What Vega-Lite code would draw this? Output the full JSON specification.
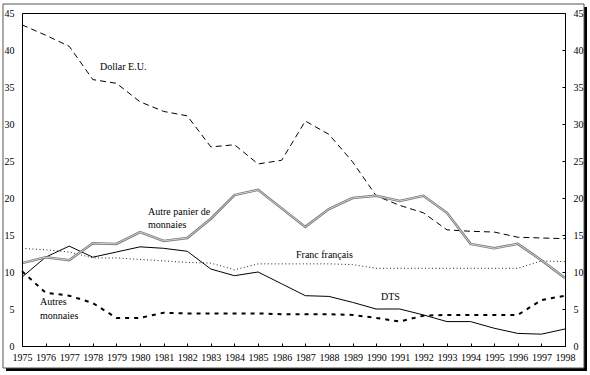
{
  "$schema": "https://vega.github.io/schema/vega-lite/v6.json",
  "width": 543,
  "height": 333,
  "autosize": {"type": "none"},
  "padding": {"left": 22, "top": 13, "right": 25, "bottom": 29},
  "background": "white",
  "config": {
    "view": {"stroke": null},
    "font": "Liberation Serif",
    "axis": {
      "domainColor": "black",
      "domainWidth": 1,
      "tickColor": "black",
      "labelColor": "black",
      "labelFont": "Liberation Serif",
      "labelFontSize": 10,
      "grid": false,
      "title": null
    }
  },
  "datasets": {
    "series": [
      {"series": "Dollar", "year": 1975, "value": 43.4},
      {"series": "Dollar", "year": 1976, "value": 42.0},
      {"series": "Dollar", "year": 1977, "value": 40.5},
      {"series": "Dollar", "year": 1978, "value": 36.0},
      {"series": "Dollar", "year": 1979, "value": 35.5},
      {"series": "Dollar", "year": 1980, "value": 33.0},
      {"series": "Dollar", "year": 1981, "value": 31.7},
      {"series": "Dollar", "year": 1982, "value": 31.1},
      {"series": "Dollar", "year": 1983, "value": 26.9},
      {"series": "Dollar", "year": 1984, "value": 27.2},
      {"series": "Dollar", "year": 1985, "value": 24.6},
      {"series": "Dollar", "year": 1986, "value": 25.1},
      {"series": "Dollar", "year": 1987, "value": 30.4},
      {"series": "Dollar", "year": 1988, "value": 28.6},
      {"series": "Dollar", "year": 1989, "value": 24.9},
      {"series": "Dollar", "year": 1990, "value": 20.3},
      {"series": "Dollar", "year": 1991, "value": 19.0},
      {"series": "Dollar", "year": 1992, "value": 18.0},
      {"series": "Dollar", "year": 1993, "value": 15.7},
      {"series": "Dollar", "year": 1994, "value": 15.5},
      {"series": "Dollar", "year": 1995, "value": 15.4},
      {"series": "Dollar", "year": 1996, "value": 14.7},
      {"series": "Dollar", "year": 1997, "value": 14.6},
      {"series": "Dollar", "year": 1998, "value": 14.5},
      {"series": "Panier", "year": 1975, "value": 11.2},
      {"series": "Panier", "year": 1976, "value": 12.0},
      {"series": "Panier", "year": 1977, "value": 11.6},
      {"series": "Panier", "year": 1978, "value": 13.9},
      {"series": "Panier", "year": 1979, "value": 13.8},
      {"series": "Panier", "year": 1980, "value": 15.4},
      {"series": "Panier", "year": 1981, "value": 14.2},
      {"series": "Panier", "year": 1982, "value": 14.6},
      {"series": "Panier", "year": 1983, "value": 17.2},
      {"series": "Panier", "year": 1984, "value": 20.4},
      {"series": "Panier", "year": 1985, "value": 21.1},
      {"series": "Panier", "year": 1986, "value": 18.6},
      {"series": "Panier", "year": 1987, "value": 16.1},
      {"series": "Panier", "year": 1988, "value": 18.5},
      {"series": "Panier", "year": 1989, "value": 20.0},
      {"series": "Panier", "year": 1990, "value": 20.3},
      {"series": "Panier", "year": 1991, "value": 19.6},
      {"series": "Panier", "year": 1992, "value": 20.3},
      {"series": "Panier", "year": 1993, "value": 18.0},
      {"series": "Panier", "year": 1994, "value": 13.8},
      {"series": "Panier", "year": 1995, "value": 13.2},
      {"series": "Panier", "year": 1996, "value": 13.8},
      {"series": "Panier", "year": 1997, "value": 11.6},
      {"series": "Panier", "year": 1998, "value": 9.2},
      {"series": "DTS", "year": 1975, "value": 9.3},
      {"series": "DTS", "year": 1976, "value": 12.0},
      {"series": "DTS", "year": 1977, "value": 13.5},
      {"series": "DTS", "year": 1978, "value": 12.0},
      {"series": "DTS", "year": 1979, "value": 12.7},
      {"series": "DTS", "year": 1980, "value": 13.4},
      {"series": "DTS", "year": 1981, "value": 13.2},
      {"series": "DTS", "year": 1982, "value": 12.8},
      {"series": "DTS", "year": 1983, "value": 10.4},
      {"series": "DTS", "year": 1984, "value": 9.5},
      {"series": "DTS", "year": 1985, "value": 10.0},
      {"series": "DTS", "year": 1986, "value": 8.4},
      {"series": "DTS", "year": 1987, "value": 6.8},
      {"series": "DTS", "year": 1988, "value": 6.7},
      {"series": "DTS", "year": 1989, "value": 5.9},
      {"series": "DTS", "year": 1990, "value": 5.0},
      {"series": "DTS", "year": 1991, "value": 5.0},
      {"series": "DTS", "year": 1992, "value": 4.2},
      {"series": "DTS", "year": 1993, "value": 3.3},
      {"series": "DTS", "year": 1994, "value": 3.3},
      {"series": "DTS", "year": 1995, "value": 2.4},
      {"series": "DTS", "year": 1996, "value": 1.7},
      {"series": "DTS", "year": 1997, "value": 1.6},
      {"series": "DTS", "year": 1998, "value": 2.3},
      {"series": "Franc", "year": 1975, "value": 13.2},
      {"series": "Franc", "year": 1976, "value": 13.0},
      {"series": "Franc", "year": 1977, "value": 12.7},
      {"series": "Franc", "year": 1978, "value": 11.9},
      {"series": "Franc", "year": 1979, "value": 11.9},
      {"series": "Franc", "year": 1980, "value": 11.7},
      {"series": "Franc", "year": 1981, "value": 11.5},
      {"series": "Franc", "year": 1982, "value": 11.3},
      {"series": "Franc", "year": 1983, "value": 11.2},
      {"series": "Franc", "year": 1984, "value": 10.3},
      {"series": "Franc", "year": 1985, "value": 11.1},
      {"series": "Franc", "year": 1986, "value": 11.1},
      {"series": "Franc", "year": 1987, "value": 11.1},
      {"series": "Franc", "year": 1988, "value": 11.1},
      {"series": "Franc", "year": 1989, "value": 11.0},
      {"series": "Franc", "year": 1990, "value": 10.5},
      {"series": "Franc", "year": 1991, "value": 10.5},
      {"series": "Franc", "year": 1992, "value": 10.5},
      {"series": "Franc", "year": 1993, "value": 10.5},
      {"series": "Franc", "year": 1994, "value": 10.5},
      {"series": "Franc", "year": 1995, "value": 10.5},
      {"series": "Franc", "year": 1996, "value": 10.5},
      {"series": "Franc", "year": 1997, "value": 11.5},
      {"series": "Franc", "year": 1998, "value": 11.4},
      {"series": "Autres", "year": 1975, "value": 10.1},
      {"series": "Autres", "year": 1976, "value": 7.2},
      {"series": "Autres", "year": 1977, "value": 6.8},
      {"series": "Autres", "year": 1978, "value": 5.8},
      {"series": "Autres", "year": 1979, "value": 3.8},
      {"series": "Autres", "year": 1980, "value": 3.8},
      {"series": "Autres", "year": 1981, "value": 4.5},
      {"series": "Autres", "year": 1982, "value": 4.4},
      {"series": "Autres", "year": 1983, "value": 4.4},
      {"series": "Autres", "year": 1984, "value": 4.4},
      {"series": "Autres", "year": 1985, "value": 4.4},
      {"series": "Autres", "year": 1986, "value": 4.3},
      {"series": "Autres", "year": 1987, "value": 4.3},
      {"series": "Autres", "year": 1988, "value": 4.3},
      {"series": "Autres", "year": 1989, "value": 4.2},
      {"series": "Autres", "year": 1990, "value": 3.8},
      {"series": "Autres", "year": 1991, "value": 3.3},
      {"series": "Autres", "year": 1992, "value": 4.1},
      {"series": "Autres", "year": 1993, "value": 4.2},
      {"series": "Autres", "year": 1994, "value": 4.2},
      {"series": "Autres", "year": 1995, "value": 4.2},
      {"series": "Autres", "year": 1996, "value": 4.2},
      {"series": "Autres", "year": 1997, "value": 6.2},
      {"series": "Autres", "year": 1998, "value": 6.8}
    ],
    "labels": [
      {"label": "Dollar E.U.", "year": 1978.304, "value": 37.7},
      {"label": "Autre panier de", "year": 1980.337, "value": 18.1},
      {"label": "monnaies", "year": 1980.337, "value": 16.35},
      {"label": "Franc français", "year": 1986.606, "value": 12.3},
      {"label": "DTS", "year": 1990.206, "value": 6.6},
      {"label": "Autres", "year": 1975.762, "value": 5.95},
      {"label": "monnaies", "year": 1975.762, "value": 4.05}
    ]
  },
  "resolve": {"axis": {"x": "independent", "y": "independent"}},
  "layer": [
    {
      "data": {"values": [{"frame": "shadow"}]},
      "mark": {"type": "rect", "fill": "black"},
      "encoding": {
        "x": {"datum": 1974.322, "type": "quantitative", "scale": {"domain": [1975, 1998], "nice": false, "zero": false}, "axis": null},
        "x2": {"datum": 1998.932},
        "y": {"datum": 45.811, "type": "quantitative", "scale": {"domain": [0, 45], "nice": false, "zero": false}, "axis": null},
        "y2": {"datum": -3.378}
      }
    },
    {
      "data": {"values": [{"frame": "box"}]},
      "mark": {"type": "rect", "fill": "white", "stroke": "#555555", "strokeWidth": 1},
      "encoding": {
        "x": {"datum": 1974.195, "type": "quantitative", "scale": {"domain": [1975, 1998], "nice": false, "zero": false}, "axis": null},
        "x2": {"datum": 1998.805},
        "y": {"datum": 46.216, "type": "quantitative", "scale": {"domain": [0, 45], "nice": false, "zero": false}, "axis": null},
        "y2": {"datum": -2.973}
      }
    },
    {
      "data": {"name": "series"},
      "transform": [{"filter": "datum.series === 'Dollar'"}],
      "mark": {"type": "line", "color": "black", "strokeWidth": 1, "strokeDash": [6, 4]},
      "encoding": {
        "x": {"field": "year", "type": "quantitative", "scale": {"domain": [1975, 1998], "nice": false, "zero": false},
          "axis": {"orient": "bottom", "zindex": 2, "values": [1975,1976,1977,1978,1979,1980,1981,1982,1983,1984,1985,1986,1987,1988,1989,1990,1991,1992,1993,1994,1995,1996,1997,1998], "format": "d", "tickSize": -3, "labelPadding": 9, "labelFlush": false, "labelOverlap": false, "labelAngle": 0}},
        "y": {"field": "value", "type": "quantitative", "scale": {"domain": [0, 45], "nice": false, "zero": false},
          "axis": {"orient": "left", "zindex": 2, "values": [0,5,10,15,20,25,30,35,40,45], "ticks": false, "labelPadding": 8}}
      }
    },
    {
      "data": {"name": "series"},
      "transform": [{"filter": "datum.series === 'Autres'"}],
      "mark": {"type": "line", "color": "black", "strokeWidth": 2, "strokeDash": [4, 5]},
      "encoding": {
        "x": {"field": "year", "type": "quantitative", "scale": {"domain": [1975, 1998], "nice": false, "zero": false},
          "axis": {"orient": "top", "zindex": 2, "labels": false, "ticks": false}},
        "y": {"field": "value", "type": "quantitative", "scale": {"domain": [0, 45], "nice": false, "zero": false},
          "axis": {"orient": "right", "zindex": 2, "values": [0,5,10,15,20,25,30,35,40,45], "tickSize": -3, "labelPadding": 11}}
      }
    },
    {
      "data": {"name": "series"},
      "transform": [{"filter": "datum.series === 'Franc'"}],
      "mark": {"type": "line", "color": "#222222", "strokeWidth": 1, "strokeDash": [1, 2.5]},
      "encoding": {
        "x": {"field": "year", "type": "quantitative", "scale": {"domain": [1975, 1998], "nice": false, "zero": false}, "axis": null},
        "y": {"field": "value", "type": "quantitative", "scale": {"domain": [0, 45], "nice": false, "zero": false}, "axis": null}
      }
    },
    {
      "data": {"name": "series"},
      "transform": [{"filter": "datum.series === 'DTS'"}],
      "mark": {"type": "line", "color": "black", "strokeWidth": 1},
      "encoding": {
        "x": {"field": "year", "type": "quantitative", "scale": {"domain": [1975, 1998], "nice": false, "zero": false}, "axis": null},
        "y": {"field": "value", "type": "quantitative", "scale": {"domain": [0, 45], "nice": false, "zero": false}, "axis": null}
      }
    },
    {
      "data": {"name": "series"},
      "transform": [{"filter": "datum.series === 'Panier'"}],
      "mark": {"type": "line", "color": "#777777", "strokeWidth": 2.5},
      "encoding": {
        "x": {"field": "year", "type": "quantitative", "scale": {"domain": [1975, 1998], "nice": false, "zero": false}, "axis": null},
        "y": {"field": "value", "type": "quantitative", "scale": {"domain": [0, 45], "nice": false, "zero": false}, "axis": null}
      }
    },
    {
      "data": {"name": "series"},
      "transform": [{"filter": "datum.series === 'Panier'"}],
      "mark": {"type": "line", "color": "#dddddd", "strokeWidth": 0.9},
      "encoding": {
        "x": {"field": "year", "type": "quantitative", "scale": {"domain": [1975, 1998], "nice": false, "zero": false}, "axis": null},
        "y": {"field": "value", "type": "quantitative", "scale": {"domain": [0, 45], "nice": false, "zero": false}, "axis": null}
      }
    },
    {
      "data": {"name": "labels"},
      "mark": {"type": "text", "align": "left", "baseline": "middle", "font": "Liberation Serif", "fontSize": 10, "color": "black"},
      "encoding": {
        "x": {"field": "year", "type": "quantitative", "scale": {"domain": [1975, 1998], "nice": false, "zero": false}, "axis": null},
        "y": {"field": "value", "type": "quantitative", "scale": {"domain": [0, 45], "nice": false, "zero": false}, "axis": null},
        "text": {"field": "label", "type": "nominal"}
      }
    }
  ]
}
